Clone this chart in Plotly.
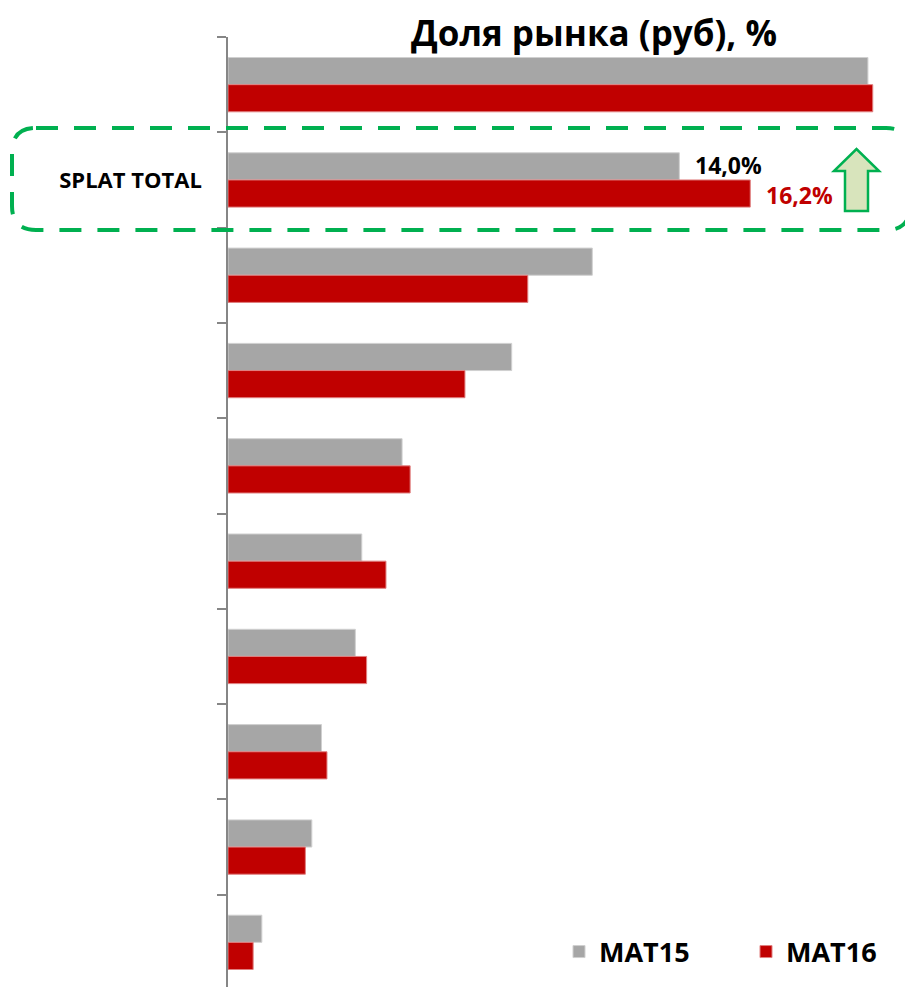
import plotly.graph_objects as go

categories = ["Бренд 1", "SPLAT TOTAL", "Бренд 3", "Бренд 4", "Бренд 5",
              "Бренд 6", "Бренд 7", "Бренд 8", "Бренд 9", "Бренд 10"]
tick_labels = ["", "SPLAT TOTAL", "", "", "", "", "", "", "", ""]
mat15 = [19.85, 14.0, 11.3, 8.8, 5.4, 4.15, 3.95, 2.9, 2.6, 1.05]
mat16 = [20.0, 16.2, 9.3, 7.35, 5.65, 4.9, 4.3, 3.07, 2.4, 0.78]
series_names = ["MAT15", "MAT16"]
label_mat15 = "14,0%"
label_mat16 = "16,2%"
title_text = "Доля рынка (руб), %"

W, H = 913, 987
OFF = 8  # page body margin
ML, MR, MT, MB = 220, 16, 29, 5
PW, PH = W - ML - MR, H - MT - MB
FONT = "Open Sans"

def px(xp):
    return (xp - OFF - ML) / PW

def py(yp):
    return 1 - (yp - OFF - MT) / PH

fig = go.Figure()
fig.add_trace(go.Bar(y=categories, x=mat15, orientation="h", name=series_names[0],
                     marker=dict(color="#a6a6a6", line=dict(color="#d0d0d0", width=1))))
fig.add_trace(go.Bar(y=categories, x=mat16, orientation="h", name=series_names[1],
                     marker=dict(color="#c00000", line=dict(color="#e08080", width=1))))

# data labels for SPLAT TOTAL
fig.add_annotation(x=mat15[1], y=py(165), xref="x", yref="paper", text=f"<b>{label_mat15}</b>",
                   showarrow=False, xanchor="left", xshift=14, yanchor="middle",
                   font=dict(family=FONT, size=23, color="#000000"))
fig.add_annotation(x=mat16[1], y=py(195), xref="x", yref="paper", text=f"<b>{label_mat16}</b>",
                   showarrow=False, xanchor="left", xshift=14, yanchor="middle",
                   font=dict(family=FONT, size=23, color="#c00000"))

# title
fig.add_annotation(x=px(594), y=py(OFF), xref="paper", yref="paper", text=f"<b>{title_text}</b>",
                   showarrow=False, xanchor="center", yanchor="top", borderpad=0,
                   font=dict(family=FONT, size=35, color="#000000"))

def P(a, b):
    return f"{px(a):.5f},{py(b):.5f}"

# dashed rounded rectangle
x0, x1, y0, y1, r = 12, 910, 128, 230, 24
path = (f"M {P(x0 + r, y0)} L {P(x1 - r, y0)} Q {P(x1, y0)} {P(x1, y0 + r)} "
        f"L {P(x1, y1 - r)} Q {P(x1, y1)} {P(x1 - r, y1)} L {P(x0 + r, y1)} "
        f"Q {P(x0, y1)} {P(x0, y1 - r)} L {P(x0, y0 + r)} Q {P(x0, y0)} {P(x0 + r, y0)} Z")
fig.add_shape(type="path", path=path, xref="paper", yref="paper",
              line=dict(color="#00b050", width=4, dash="22px,16px"), fillcolor="rgba(0,0,0,0)")

# up arrow
ax = [834, 845, 845, 868, 868, 879, 856.5]
ay = [171, 171, 211, 211, 171, 171, 149]
apath = "M " + " L ".join(P(a, b) for a, b in zip(ax, ay)) + " Z"
fig.add_shape(type="path", path=apath, xref="paper", yref="paper",
              line=dict(color="#00b050", width=2.5), fillcolor="#d8e4bc")

fig.update_layout(
    width=W, height=H,
    margin=dict(l=ML, r=MR, t=MT, b=MB, autoexpand=False),
    paper_bgcolor="white", plot_bgcolor="white",
    barmode="group", bargap=0.43, bargroupgap=0,
    showlegend=True,
    legend=dict(orientation="h", x=px(559), y=py(952), xanchor="left", yanchor="middle",
                font=dict(family=FONT, size=27, color="#000000", weight="bold"),
                entrywidth=142, entrywidthmode="pixels", itemwidth=30,
                bgcolor="rgba(0,0,0,0)", traceorder="normal"),
    font=dict(family=FONT),
)
fig.update_xaxes(range=[0, 21], showgrid=False, zeroline=False, showticklabels=False,
                 showline=False, ticks="")
fig.update_yaxes(autorange="reversed", type="category", tickson="boundaries",
                 tickmode="array", tickvals=categories, ticktext=tick_labels,
                 ticks="outside", ticklen=9, tickwidth=1.5, tickcolor="#868686",
                 showline=True, linecolor="#868686", linewidth=1.5, showgrid=False,
                 ticklabelstandoff=20,
                 tickfont=dict(family=FONT, size=22, color="#000000", weight="bold"))

fig.write_html("out.html")
